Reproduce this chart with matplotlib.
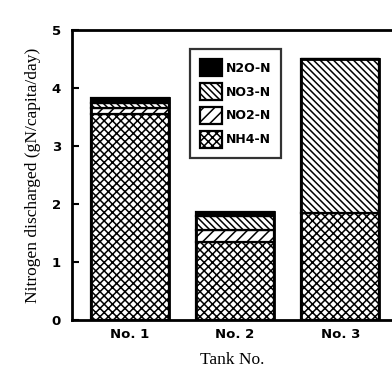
import matplotlib
matplotlib.use("Agg")
import matplotlib.pyplot as plt
import numpy as np

plt.rcParams['hatch.linewidth'] = 1.1

tanks = ["No. 1", "No. 2", "No. 3"]
nh4 = [3.55, 1.35, 1.85]
no2 = [0.10, 0.20, 0.00]
no3 = [0.10, 0.24, 2.65]
n2o = [0.08, 0.07, 0.00]

series = [
    ("NH4-N", nh4, dict(facecolor="white", hatch="xxxx")),
    ("NO2-N", no2, dict(facecolor="white", hatch="///")),
    ("NO3-N", no3, dict(facecolor="white", hatch="\\\\\\\\\\")),
    ("N2O-N", n2o, dict(facecolor="black", hatch="")),
]

tick_font = dict(family=["Liberation Sans Narrow", "DejaVu Sans"], weight="bold", size=9.5)
label_font = dict(family=["Liberation Serif", "DejaVu Serif"], size=12.5)

fig = plt.figure(figsize=(3.92, 3.86), dpi=100)
ax = fig.add_axes([0.184, 0.171, 0.816, 0.751])

x = np.arange(len(tanks))
bottom = np.zeros(len(tanks))
handles = {}
for name, vals, style in series:
    vals = np.array(vals)
    bars = ax.bar(x, vals, width=0.74, bottom=bottom, edgecolor="black",
                  linewidth=1.6, **style)
    handles[name] = bars
    bottom += vals

# outline each full stack with a heavy border
ax.bar(x, bottom, width=0.74, facecolor="none", edgecolor="black", linewidth=2)

ax.set_xlim(-0.545, 2.49)
ax.set_ylim(0, 5)
ax.set_yticks([0, 1, 2, 3, 4, 5])
ax.set_xticks(x)
ax.set_xticklabels(tanks, **tick_font)
ax.set_yticklabels([str(v) for v in range(6)], **tick_font)
ax.tick_params(axis="y", direction="in", length=5, width=1.5, pad=8)
ax.tick_params(axis="x", length=0, pad=6)

for side in ("left", "top", "bottom"):
    ax.spines[side].set_linewidth(2)
ax.spines["right"].set_visible(False)

ax.set_ylabel("Nitrogen discharged (gN/capita/day)", labelpad=8, **label_font)
ax.set_xlabel("Tank No.", labelpad=8, **label_font)

order = ["N2O-N", "NO3-N", "NO2-N", "NH4-N"]
leg = ax.legend([handles[k] for k in order], order, loc="upper left",
                bbox_to_anchor=(0.35, 0.955), frameon=True, fancybox=False,
                edgecolor="black", handlelength=1.7, handleheight=1.7,
                handletextpad=0.35, labelspacing=0.55, borderpad=0.8,
                prop=dict(family=["Liberation Sans Narrow", "DejaVu Sans"],
                          weight="bold", size=9))
leg.get_frame().set_linewidth(1.6)

fig.savefig("out.png", dpi=100)
